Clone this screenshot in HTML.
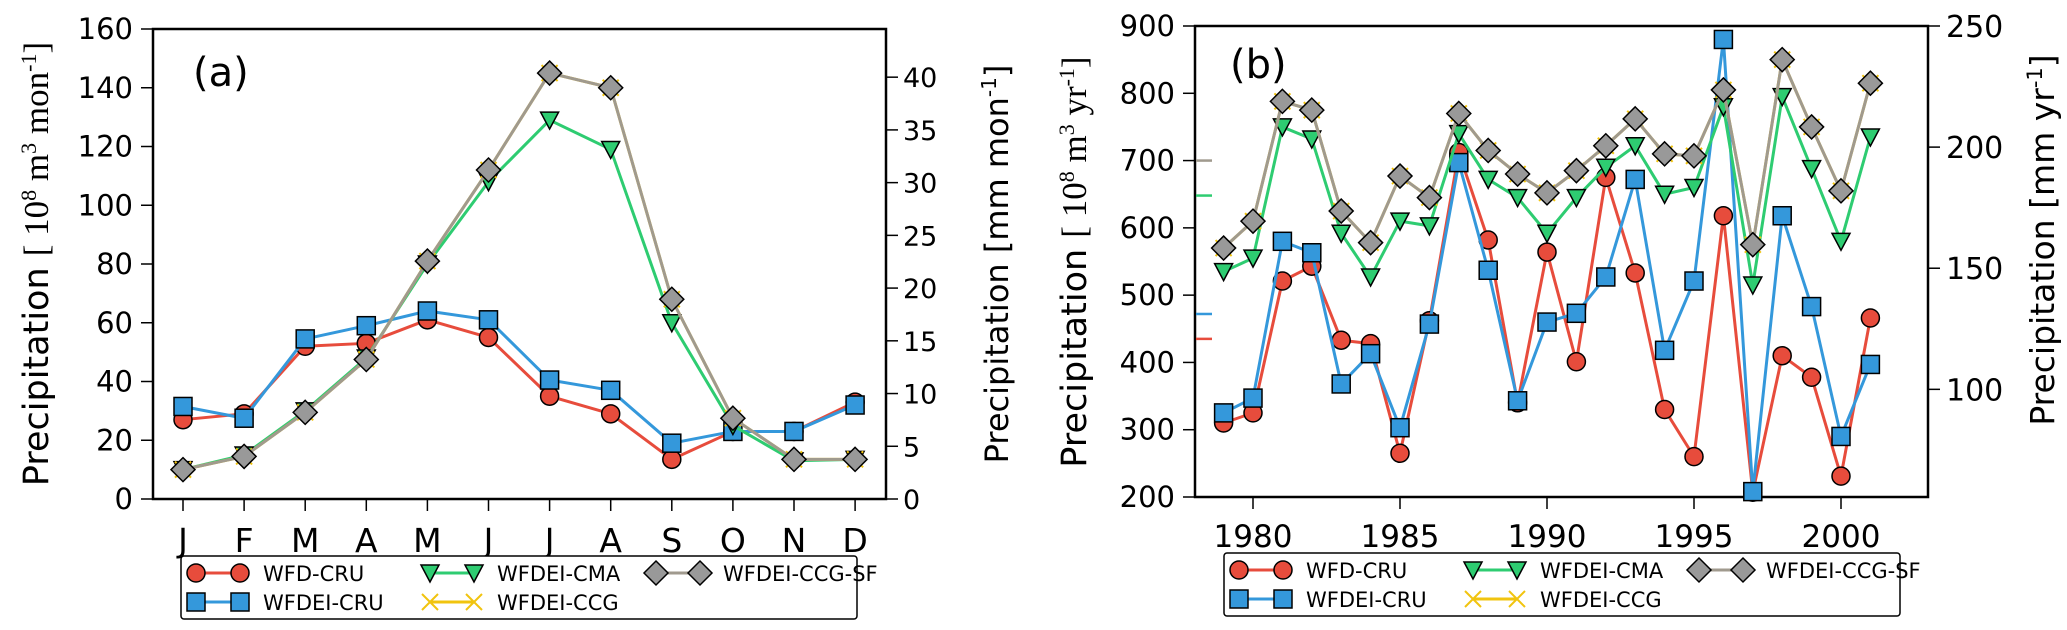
<!DOCTYPE html>
<html><head><meta charset="utf-8"><style>
html,body{margin:0;padding:0;background:#fff;}
svg{display:block;font-family:"DejaVu Sans","Liberation Sans",sans-serif;}
</style></head><body>
<svg id="chart" width="2067" height="630" viewBox="0 0 2067 630" xmlns="http://www.w3.org/2000/svg">
<g id="pa"></g>
<g id="pb"></g>
</svg>
<script>
// Panel (a) data
const months = ["J","F","M","A","M","J","J","A","S","O","N","D"];
const aWfdCru   = [27,29,52,53,61,55,35,29,13.5,23,23,33];
const aWfdeiCru = [31.5,27.5,54.5,59,64,61,40.5,37,19,23,23,32];
const aCma      = [10,15,30,48,80,108,129,119,60,25,13,13.5];
const aCcg      = [10,14.5,29.5,47.5,81,112,145,140,68,27.5,13.5,13.5];
const aCcgSf    = [10,14.5,29.5,47.5,81,112,145,140,68,27.5,13.5,13.5];
const aLeftTicks = [0,20,40,60,80,100,120,140,160];
const aRightTicks = [0,5,10,15,20,25,30,35,40];
// Panel (b) data
const years = [1979,1980,1981,1982,1983,1984,1985,1986,1987,1988,1989,1990,1991,1992,1993,1994,1995,1996,1997,1998,1999,2000,2001];
const bWfdCru   = [310,325,521,543,433,428,265,462,712,582,340,564,401,675,533,330,260,618,207,410,378,231,466];
const bWfdeiCru = [325,347,580,563,368,413,303,457,697,537,343,460,473,527,672,418,521,880,208,618,483,290,397];
const bCma      = [535,555,750,732,592,527,610,603,740,672,645,592,645,690,722,650,660,780,515,795,688,580,735];
const bCcg      = [570,610,788,775,625,578,677,645,770,715,680,652,685,722,762,710,707,805,575,850,750,655,815];
const bCcgSf    = [570,610,788,775,625,578,677,645,770,715,680,652,685,722,762,710,707,805,575,850,750,655,815];
const bMeans    = [435,472,648,700];
const bLeftTicks = [200,300,400,500,600,700,800,900];
const bRightTicks = [100,150,200,250];
const bYearTicks = [1980,1985,1990,1995,2000];

const NS="http://www.w3.org/2000/svg";
function mk(parent,tag,attrs,text){const e=document.createElementNS(NS,tag);for(const k in attrs)e.setAttribute(k,attrs[k]);if(text!==undefined)e.textContent=text;parent.appendChild(e);return e;}
const COL={red:"#e74c3c",blue:"#3498db",green:"#2ecc71",yellow:"#f1c40f",gray:"#999999",grayLine:"#a09a8e"};

function marker(g,type,x,y,color){
  let e;
  if(type==="circle") e=mk(g,"circle",{cx:x,cy:y,r:9,fill:color,stroke:"#000","stroke-width":1.5});
  else if(type==="square") e=mk(g,"rect",{x:x-9,y:y-9,width:18,height:18,fill:color,stroke:"#000","stroke-width":1.5});
  else if(type==="tri") e=mk(g,"polygon",{points:`${x-9},${y-8} ${x+9},${y-8} ${x},${y+9}`,fill:color,stroke:"#000","stroke-width":1.5});
  else if(type==="diamond") e=mk(g,"polygon",{points:`${x},${y-12} ${x+12},${y} ${x},${y+12} ${x-12},${y}`,fill:color,stroke:"#000","stroke-width":1.5});
  else { e=mk(g,"path",{d:`M${x-8},${y-8}L${x+8},${y+8}M${x-8},${y+8}L${x+8},${y-8}`,stroke:color,"stroke-width":2,fill:"none"}); }
  return e;
}
function series(g,name,xs,ys,xf,yf,lineColor,type,fill){
  const sg=mk(g,"g",{});
  
  
  const pts=xs.map((x,i)=>xf(x)+","+yf(ys[i])).join(" ");
  mk(sg,"polyline",{points:pts,fill:"none",stroke:lineColor,"stroke-width":3,"stroke-linejoin":"round"});
  xs.forEach((x,i)=>{const m=marker(sg,type,xf(x),yf(ys[i]),fill);
    
    });
}
function legend(g,x0,y0,w,h,name){
  const lg=mk(g,"g",{});
  
  
  mk(lg,"rect",{x:x0,y:y0,width:w,height:h,rx:3,fill:"#fff",stroke:"#000","stroke-width":1.5});
  const items=[["WFD-CRU",COL.red,"circle",COL.red,0,0],["WFDEI-CRU",COL.blue,"square",COL.blue,0,1],
    ["WFDEI-CMA",COL.green,"tri",COL.green,1,0],["WFDEI-CCG",COL.yellow,"x",COL.yellow,1,1],
    ["WFDEI-CCG-SF",COL.grayLine,"diamond",COL.gray,2,0]];
  const cx=[0,234,460];
  items.forEach(it=>{
    const ig=mk(lg,"g",{});
    
    
    const bx=x0+cx[it[4]], by=y0+17+it[5]*29;
    mk(ig,"line",{x1:bx+15,y1:by,x2:bx+59,y2:by,stroke:it[1],"stroke-width":3});
    marker(ig,it[2],bx+15,by,it[3]);marker(ig,it[2],bx+59,by,it[3]);
    mk(ig,"text",{x:bx+82,y:by+8,"font-size":21},it[0]);
  });
}

// ---------- Panel A ----------
(function(){
  const g=document.getElementById("pa");
  const L=153,R=886,T=29,B=499;
  const xf=i=>183+i*61.1;
  const yf=v=>B-(v/160)*(B-T);
  const yr=v=>B-(v*3.59/160)*(B-T);
  mk(g,"rect",{x:L,y:T,width:R-L,height:B-T,fill:"#fff",stroke:"#000","stroke-width":2.5});
  aLeftTicks.forEach(v=>{mk(g,"line",{x1:L-12,y1:yf(v),x2:L,y2:yf(v),stroke:"#000","stroke-width":1.5});
    const t=mk(g,"text",{x:L-20,y:yf(v)+10,"font-size":29,"text-anchor":"end"},v);
    });
  aRightTicks.forEach(v=>{mk(g,"line",{x1:R,y1:yr(v),x2:R+12,y2:yr(v),stroke:"#000","stroke-width":1.5});
    const t=mk(g,"text",{x:R+17,y:yr(v)+10,"font-size":27},v);
    });
  months.forEach((m,i)=>{mk(g,"line",{x1:xf(i),y1:B,x2:xf(i),y2:B+12,stroke:"#000","stroke-width":1.5});
    const t=mk(g,"text",{x:xf(i),y:552,"font-size":33,"text-anchor":"middle"},m);
    });
  const yt=mk(g,"text",{transform:"translate(48,264) rotate(-90)","font-size":35,"text-anchor":"middle"});
  
  yt.innerHTML='Precipitation <tspan font-family="Liberation Serif,serif">[ 10<tspan dy="-12" font-size="22">8</tspan><tspan dy="12"> m</tspan><tspan dy="-12" font-size="22">3</tspan><tspan dy="12"> mon</tspan><tspan dy="-12" font-size="22">-1</tspan><tspan dy="12">]</tspan></tspan>';
  const yt2=mk(g,"text",{transform:"translate(1008,264) rotate(-90)","font-size":32,"text-anchor":"middle"});
  
  yt2.innerHTML='Precipitation [mm mon<tspan dy="-12" font-size="20">-1</tspan><tspan dy="12">]</tspan>';
  const lab=mk(g,"text",{x:193,y:86,"font-size":40},"(a)");
  
  const idx=months.map((m,i)=>i);
  series(g,"series-wfd-cru",idx,aWfdCru,xf,yf,COL.red,"circle",COL.red);
  series(g,"series-wfdei-cru",idx,aWfdeiCru,xf,yf,COL.blue,"square",COL.blue);
  series(g,"series-wfdei-cma",idx,aCma,xf,yf,COL.green,"tri",COL.green);
  series(g,"series-wfdei-ccg",idx,aCcg,xf,yf,COL.yellow,"x",COL.yellow);
  series(g,"series-wfdei-ccg-sf",idx,aCcgSf,xf,yf,COL.grayLine,"diamond",COL.gray);
  legend(g,181,556,676,63,"legend-a");
})();

// ---------- Panel B ----------
(function(){
  const g=document.getElementById("pb");
  const L=1195,R=1928,T=26,B=497;
  const xf=y=>1253+(y-1980)*29.4;
  const yf=v=>B-((v-200)/700)*(B-T);
  const yr=v=>yf(v*3.6);
  mk(g,"rect",{x:L,y:T,width:R-L,height:B-T,fill:"#fff",stroke:"#000","stroke-width":2.5});
  bLeftTicks.forEach(v=>{mk(g,"line",{x1:L-12,y1:yf(v),x2:L,y2:yf(v),stroke:"#000","stroke-width":1.5});
    const t=mk(g,"text",{x:L-20,y:yf(v)+10,"font-size":29,"text-anchor":"end"},v);
    });
  bRightTicks.forEach(v=>{mk(g,"line",{x1:R,y1:yr(v),x2:R+12,y2:yr(v),stroke:"#000","stroke-width":1.5});
    const t=mk(g,"text",{x:R+18,y:yr(v)+11,"font-size":30},v);
    });
  bYearTicks.forEach(y=>{mk(g,"line",{x1:xf(y),y1:B,x2:xf(y),y2:B+12,stroke:"#000","stroke-width":1.5});
    const t=mk(g,"text",{x:xf(y),y:547,"font-size":31,"text-anchor":"middle"},y);
    });
  const meanCols=[COL.red,COL.blue,COL.green,COL.grayLine];
  bMeans.forEach((v,i)=>{const l=mk(g,"line",{x1:L+1,y1:yf(v),x2:L+17,y2:yf(v),stroke:meanCols[i],"stroke-width":2.5});
    });
  const yt=mk(g,"text",{transform:"translate(1086,262) rotate(-90)","font-size":35,"text-anchor":"middle"});
  
  yt.innerHTML='Precipitation <tspan font-family="Liberation Serif,serif">[ 10<tspan dy="-12" font-size="22">8</tspan><tspan dy="12"> m</tspan><tspan dy="-12" font-size="22">3</tspan><tspan dy="12"> yr</tspan><tspan dy="-12" font-size="22">-1</tspan><tspan dy="12">]</tspan></tspan>';
  const yt2=mk(g,"text",{transform:"translate(2054,240) rotate(-90)","font-size":33,"text-anchor":"middle"});
  
  yt2.innerHTML='Precipitation [mm yr<tspan dy="-12" font-size="21">-1</tspan><tspan dy="12">]</tspan>';
  const lab=mk(g,"text",{x:1230,y:78,"font-size":40},"(b)");
  
  series(g,"series-wfd-cru",years,bWfdCru,xf,yf,COL.red,"circle",COL.red);
  series(g,"series-wfdei-cru",years,bWfdeiCru,xf,yf,COL.blue,"square",COL.blue);
  series(g,"series-wfdei-cma",years,bCma,xf,yf,COL.green,"tri",COL.green);
  series(g,"series-wfdei-ccg",years,bCcg,xf,yf,COL.yellow,"x",COL.yellow);
  series(g,"series-wfdei-ccg-sf",years,bCcgSf,xf,yf,COL.grayLine,"diamond",COL.gray);
  legend(g,1224,553,676,63,"legend-b");
})();
</script>
</body></html>
